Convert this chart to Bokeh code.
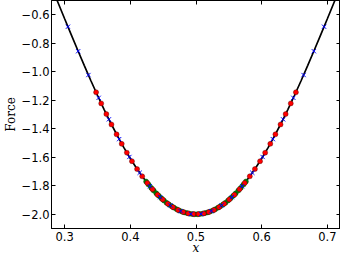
from bokeh.plotting import figure
from bokeh.models import Range1d, LinearAxis, FixedTicker, CustomJSTickFormatter
from bokeh.embed import file_html
from bokeh.resources import INLINE

# ---- data ----
line_x = [0.28, 0.29, 0.30, 0.31, 0.32, 0.33, 0.34, 0.35, 0.36, 0.37, 0.38, 0.39,
          0.40, 0.41, 0.42, 0.43, 0.44, 0.45, 0.46, 0.47, 0.48, 0.49, 0.50,
          0.51, 0.52, 0.53, 0.54, 0.55, 0.56, 0.57, 0.58, 0.59, 0.60, 0.61,
          0.62, 0.63, 0.64, 0.65, 0.66, 0.67, 0.68, 0.69, 0.70, 0.71, 0.72]
line_y = [-0.405, -0.516, -0.628, -0.739, -0.849, -0.957, -1.063, -1.165, -1.264, -1.358,
          -1.447, -1.531, -1.609, -1.681, -1.746, -1.804, -1.856, -1.899, -1.935, -1.964,
          -1.984, -1.996, -2.000,
          -1.996, -1.984, -1.964, -1.935, -1.899, -1.856, -1.804, -1.746, -1.681, -1.609,
          -1.531, -1.447, -1.358, -1.264, -1.165, -1.063, -0.957, -0.849, -0.739, -0.628,
          -0.516, -0.405]

blue_x = [0.305, 0.3206, 0.3362, 0.3518, 0.3674, 0.383, 0.3986, 0.4142, 0.4298, 0.4454,
          0.461, 0.4766, 0.4922, 0.5078, 0.5234, 0.539, 0.5546, 0.5702, 0.5858, 0.6014,
          0.617, 0.6326, 0.6482, 0.6638, 0.6794, 0.695]
blue_y = [-0.684, -0.856, -1.023, -1.183, -1.334, -1.473, -1.598, -1.709, -1.803, -1.880,
          -1.938, -1.978, -1.998, -1.998, -1.978, -1.938, -1.880, -1.803, -1.709, -1.598,
          -1.473, -1.334, -1.183, -1.023, -0.856, -0.684]

red_x = [0.3479, 0.3557, 0.3635, 0.3713, 0.3791, 0.3869, 0.3947, 0.4025, 0.4103, 0.4181,
         0.4259, 0.4337, 0.4415, 0.4493, 0.4571, 0.4649, 0.4727, 0.4805, 0.4883, 0.4961,
         0.5039, 0.5117, 0.5195, 0.5273, 0.5351, 0.5429, 0.5507, 0.5585, 0.5663, 0.5741,
         0.5819, 0.5897, 0.5975, 0.6053, 0.6131, 0.6209, 0.6287, 0.6365, 0.6443, 0.6521]
red_y = [-1.144, -1.222, -1.297, -1.370, -1.439, -1.506, -1.568, -1.628, -1.683, -1.734,
         -1.781, -1.824, -1.863, -1.896, -1.926, -1.950, -1.970, -1.985, -1.994, -1.999,
         -1.999, -1.994, -1.985, -1.970, -1.950, -1.926, -1.896, -1.863, -1.824, -1.781,
         -1.734, -1.683, -1.628, -1.568, -1.506, -1.439, -1.370, -1.297, -1.222, -1.144]

green_x = [0.4240, 0.4278, 0.4317, 0.4356, 0.4395, 0.4434, 0.4473, 0.4512, 0.4551, 0.4590,
           0.4629, 0.4668, 0.4707, 0.4746, 0.4785, 0.4824, 0.4863, 0.4902, 0.4941, 0.4981,
           0.5019, 0.5059, 0.5098, 0.5137, 0.5176, 0.5215, 0.5254, 0.5293, 0.5332, 0.5371,
           0.5410, 0.5449, 0.5488, 0.5527, 0.5566, 0.5605, 0.5644, 0.5683, 0.5722, 0.5760]
green_y = [-1.770, -1.792, -1.814, -1.834, -1.853, -1.871, -1.888, -1.904, -1.919, -1.932,
           -1.944, -1.955, -1.965, -1.974, -1.981, -1.987, -1.992, -1.996, -1.999, -2.000,
           -2.000, -1.999, -1.996, -1.992, -1.987, -1.981, -1.974, -1.965, -1.955, -1.944,
           -1.932, -1.919, -1.904, -1.888, -1.871, -1.853, -1.834, -1.814, -1.792, -1.770]

x_ticks = [0.3, 0.4, 0.5, 0.6, 0.7]
y_ticks = [-2.0, -1.8, -1.6, -1.4, -1.2, -1.0, -0.8, -0.6]

# ---- figure ----
p = figure(width=340, height=258, output_backend="svg", toolbar_location=None,
           x_range=Range1d(0.28, 0.72), y_range=Range1d(-2.1, -0.5),
           min_border_left=44, min_border_right=0, min_border_top=0, min_border_bottom=30)
p.xgrid.visible = False
p.ygrid.visible = False
p.outline_line_color = "black"
p.background_fill_color = "white"
p.border_fill_color = "white"

fmt = CustomJSTickFormatter(code="return tick.toFixed(1).replace('-', '\u2212');")
blank = CustomJSTickFormatter(code="return '';")

for ax, ticks in ((p.xaxis[0], x_ticks), (p.yaxis[0], y_ticks)):
    ax.ticker = FixedTicker(ticks=ticks)
    ax.formatter = fmt
    ax.major_tick_in = 4
    ax.major_tick_out = 0
    ax.minor_tick_line_color = None
    ax.axis_line_color = "black"
    ax.major_tick_line_color = "black"
    ax.major_label_text_font = "DejaVu Sans"
    ax.major_label_text_font_size = "11.5px"
    ax.major_label_text_color = "black"
    ax.axis_label_text_font = "DejaVu Serif"
    ax.axis_label_text_font_size = "12px"
    ax.axis_label_text_color = "black"

p.xaxis.axis_label = "x"
p.xaxis.axis_label_text_font_style = "italic"
p.xaxis.major_label_standoff = 3
p.xaxis.axis_label_standoff = -3
p.yaxis.axis_label = "Force"
p.yaxis.axis_label_text_font_style = "normal"
p.yaxis.major_label_standoff = 2
p.yaxis.axis_label_standoff = 1

for loc, ticks in (("right", y_ticks), ("above", x_ticks)):
    ax = LinearAxis(ticker=FixedTicker(ticks=ticks), formatter=blank,
                    major_label_text_font_size="1px",
                    major_label_standoff=0, major_tick_in=4, major_tick_out=0,
                    minor_tick_line_color=None, axis_line_color="black",
                    major_tick_line_color="black")
    p.add_layout(ax, loc)

p.line(line_x, line_y, line_color="black", line_width=1.7)
p.scatter(green_x, green_y, size=5, fill_color="#008000", line_color="#004000", line_width=0.4)
p.scatter(red_x, red_y, size=5, fill_color="#ff0000", line_color="#400000", line_width=0.4)
p.scatter(blue_x, blue_y, marker="x", size=6, line_color="#0000ff", line_width=1)

open("out.html", "w").write(file_html(p, INLINE))
